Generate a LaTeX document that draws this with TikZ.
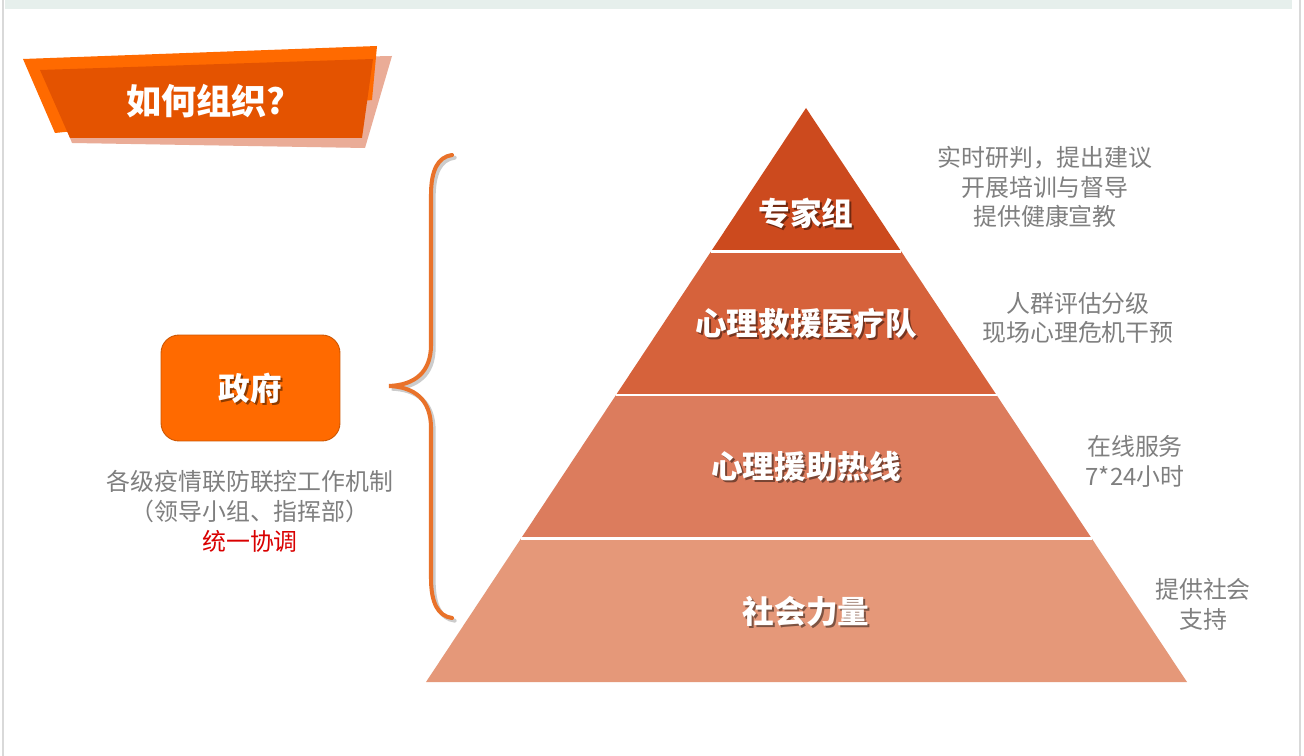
\documentclass[tikz,border=0pt]{standalone}
\usepackage{fontspec}
\setmainfont{Noto Sans CJK SC}
\usetikzlibrary{calc}
\definecolor{bannerlight}{HTML}{FF6A00}
\definecolor{bannerdark}{HTML}{E45300}
\definecolor{bannershade}{HTML}{E8A38C}
\definecolor{govfill}{HTML}{FF6A00}
\definecolor{bracecol}{HTML}{E9722A}
\definecolor{tierA}{HTML}{CC4A1E}
\definecolor{tierB}{HTML}{D6623B}
\definecolor{tierC}{HTML}{DC7C5D}
\definecolor{tierD}{HTML}{E59879}
\definecolor{notegray}{HTML}{7F7F7F}
\definecolor{stripcol}{HTML}{E6EFEC}
\tikzset{
  tierlabel/.style={text=white,font=\bfseries\fontsize{18}{20}\selectfont},
  tiershadow/.style={text=black,opacity=.45,font=\bfseries\fontsize{18}{20}\selectfont},
  note/.style={text=notegray,align=center,font=\fontsize{13.6}{17}\selectfont},
  sepline/.style={white,line width=1.2pt}
}
\begin{document}
\begin{tikzpicture}[x=0.02cm,y=-0.02cm]
\useasboundingbox (0,0) rectangle (1304,756);
\fill[white] (0,0) rectangle (1304,756);
\fill[stripcol] (5,0) rectangle (1292,9);
\draw[black!15,line width=1pt] (3,0)--(3,756);
\draw[black!15,line width=1.5pt] (1300,0)--(1300,756);
% title banner
\fill[bannershade,opacity=.9] (300,58)--(392,56)--(365,148)--(72,143)--(66,128)--cycle;
\fill[bannerlight] (23,59)--(377,46)--(372,100)--(55,133)--cycle;
\fill[bannerdark] (40,70)--(373,59)--(362,138)--(70,138)--cycle;
\node[text=white,font=\bfseries\fontsize{20}{22}\selectfont] (title) at (206,101) {如何组织?};
% government
\node[fill=govfill,draw=govfill!80!black,line width=.5pt,rounded corners=0.36cm,
  minimum width=3.58cm,minimum height=2.12cm] (gov) at (250.5,388) {};
\node[tiershadow] (govs) at (252.5,390) {政府};
\node[tierlabel] (govt) at (250.5,388) {政府};
\node[note] (govnote) at (250,511) {各级疫情联防联控工作机制\\（领导小组、指挥部）\\{\color{red!85!black}统一协调}};
% brace
\draw[black!20,line width=2.3pt,line cap=round,xshift=1.5,yshift=-1.5]
  (452,155) .. controls (438,157) and (431,170) .. (431,195) -- (431,345)
  .. controls (431,372) and (415,385) .. (389,386)
  .. controls (415,387) and (431,400) .. (431,428) -- (431,578)
  .. controls (431,603) and (438,616) .. (452,618);
\draw[bracecol,line width=2.3pt,line cap=round]
  (452,155) .. controls (438,157) and (431,170) .. (431,195) -- (431,345)
  .. controls (431,372) and (415,385) .. (389,386)
  .. controls (415,387) and (431,400) .. (431,428) -- (431,578)
  .. controls (431,603) and (438,616) .. (452,618);
% pyramid
\coordinate (apex) at (806,108);
\coordinate (bl) at (426,682);
\coordinate (br) at (1187,682);
\foreach \t/\n in {0.25/1,0.5/2,0.75/3}{
  \coordinate (l\n) at ($(apex)!\t!(bl)$);
  \coordinate (r\n) at ($(apex)!\t!(br)$);
}
\fill[tierA] (apex)--(l1)--(r1)--cycle;
\fill[tierB] (l1)--(l2)--(r2)--(r1)--cycle;
\fill[tierC] (l2)--(l3)--(r3)--(r2)--cycle;
\fill[tierD] (l3)--(bl)--(br)--(r3)--cycle;
\draw[sepline] (l1)--(r1);
\draw[sepline] (l2)--(r2);
\draw[sepline] (l3)--(r3);
\node[tiershadow] at (808,215) {专家组};
\node[tierlabel] (expert) at (806,213) {专家组};
\node[tiershadow] at (808,325) {心理救援医疗队};
\node[tierlabel] (rescue) at (806,323) {心理救援医疗队};
\node[tiershadow] at (808,468) {心理援助热线};
\node[tierlabel] (hotline) at (806,466) {心理援助热线};
\node[tiershadow] at (808,613) {社会力量};
\node[tierlabel] (social) at (806,611) {社会力量};
% notes
\node[note] (expertnote) at (1045,187) {实时研判，提出建议\\开展培训与督导\\提供健康宣教};
\node[note] (rescuenote) at (1078,318) {人群评估分级\\现场心理危机干预};
\node[note] (hotlinenote) at (1135,461) {在线服务\\7*24小时};
\node[note] (socialnote) at (1203,604) {提供社会\\支持};
\end{tikzpicture}
\end{document}
